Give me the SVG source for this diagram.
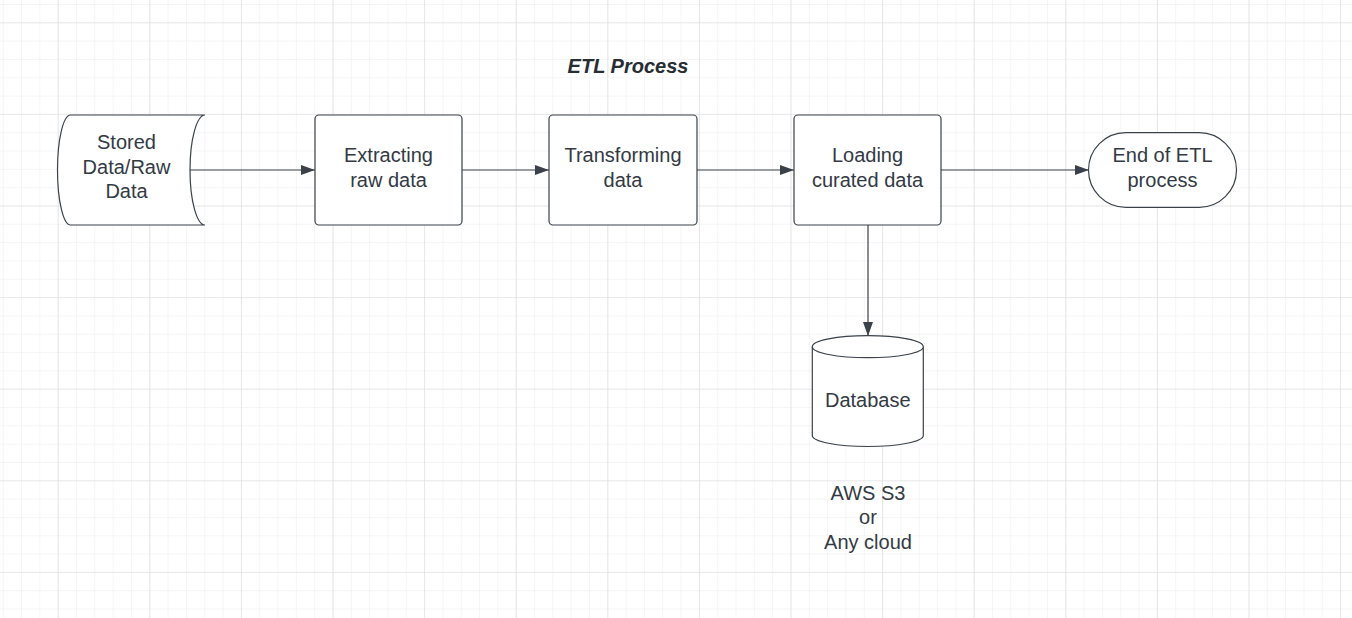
<svg xmlns="http://www.w3.org/2000/svg" width="1352" height="618" viewBox="0 0 1352 618">
<defs>
<pattern id="minor" patternUnits="userSpaceOnUse" x="57.7" y="22.3" width="18.32" height="18.32">
<path d="M0,0 H18.32 M0,0 V18.32" fill="none" stroke="#ebebeb" stroke-width="1"/>
</pattern>
<pattern id="major" patternUnits="userSpaceOnUse" x="57.7" y="22.3" width="91.6" height="91.6">
<path d="M0,0 H91.6 M0,0 V91.6" fill="none" stroke="#dcdcdc" stroke-width="1.2"/>
</pattern>
<marker id="arr" viewBox="0 0 14 11" refX="14" refY="5.5" markerWidth="14" markerHeight="11" markerUnits="userSpaceOnUse" orient="auto">
<path d="M0,0.5 L14,5.5 L0,10.5 Z" fill="#3a414a"/>
</marker>
<style>
.shape{fill:#ffffff;stroke:#3a414a;stroke-width:1.2}
.lbl{font-family:"Liberation Sans",Arial,sans-serif;font-size:20px;fill:#333a44;text-anchor:middle}
.title{font-family:"Liberation Sans",Arial,sans-serif;font-size:20px;font-weight:bold;font-style:italic;fill:#282c33;text-anchor:middle}
.conn{fill:none;stroke:#3a414a;stroke-width:1.2}
</style>
</defs>
<rect width="1352" height="618" fill="#ffffff"/>
<rect width="1352" height="618" fill="url(#minor)"/>
<rect width="1352" height="618" fill="url(#major)"/>

<text class="title" x="628" y="73">ETL Process</text>

<g id="connectors">
<path class="conn" d="M190,170 H315" marker-end="url(#arr)"/>
<path class="conn" d="M462,170 H549" marker-end="url(#arr)"/>
<path class="conn" d="M697,170 H794" marker-end="url(#arr)"/>
<path class="conn" d="M941,170 H1089" marker-end="url(#arr)"/>
<path class="conn" d="M868,225 V336" marker-end="url(#arr)"/>
</g>

<g id="stored-data">
<path class="shape" d="M205,115 H70.5 A13 55 0 0 0 70.5,225 H205 A15 55 0 0 1 205,115 Z"/>
<text class="lbl" x="126.5" y="149">Stored</text>
<text class="lbl" x="126.5" y="173.5">Data/Raw</text>
<text class="lbl" x="126.5" y="198">Data</text>
</g>

<g id="extracting">
<rect class="shape" x="315" y="115" width="147" height="110" rx="4"/>
<text class="lbl" x="388.5" y="162">Extracting</text>
<text class="lbl" x="388.5" y="187">raw data</text>
</g>

<g id="transforming">
<rect class="shape" x="549" y="115" width="148" height="110" rx="4"/>
<text class="lbl" x="623" y="162">Transforming</text>
<text class="lbl" x="623" y="187">data</text>
</g>

<g id="loading">
<rect class="shape" x="794" y="115" width="147" height="110" rx="4"/>
<text class="lbl" x="867.5" y="162">Loading</text>
<text class="lbl" x="867.5" y="187">curated data</text>
</g>

<g id="end">
<rect class="shape" x="1088.5" y="132.7" width="148" height="74.6" rx="37.3"/>
<text class="lbl" x="1162.5" y="162">End of ETL</text>
<text class="lbl" x="1162.5" y="187">process</text>
</g>

<g id="database">
<path class="shape" d="M812.3,346.7 V435.5 A55.5 11 0 0 0 923.3,435.5 V346.7"/>
<ellipse class="shape" cx="867.8" cy="346.7" rx="55.5" ry="11"/>
<text class="lbl" x="867.8" y="407">Database</text>
</g>

<g id="db-note">
<text class="lbl" x="868" y="500">AWS S3</text>
<text class="lbl" x="868" y="524">or</text>
<text class="lbl" x="868" y="549">Any cloud</text>
</g>
</svg>
